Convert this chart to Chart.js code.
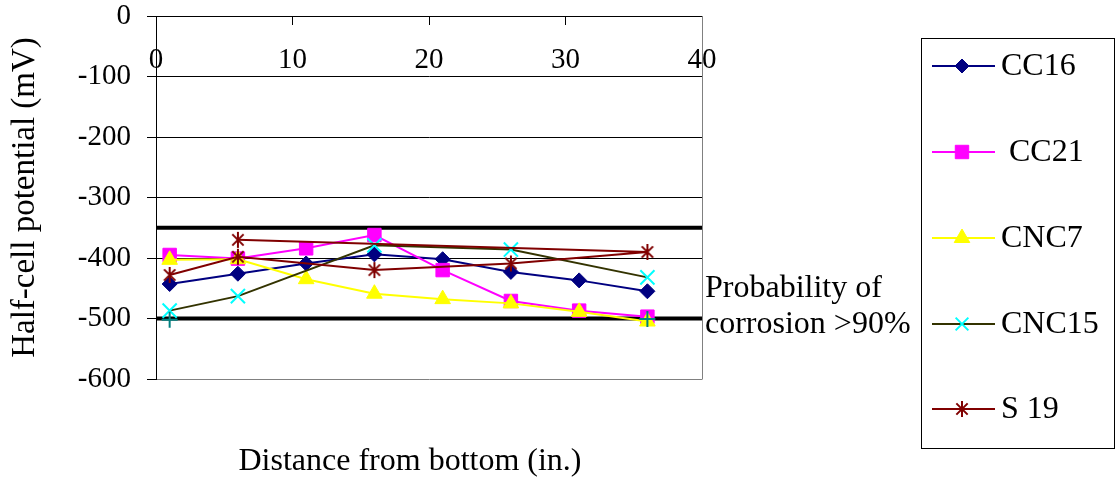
<!DOCTYPE html>
<html><head><meta charset="utf-8">
<script src="https://cdn.jsdelivr.net/npm/chart.js@4.4.1/dist/chart.umd.min.js"></script>
<style>html,body{margin:0;padding:0;background:#fff;}#wrap{width:1116px;height:477px;position:relative;}</style>
</head><body><div id="wrap"><canvas id="c" width="1116" height="477"></canvas></div>
<script>
// ---- data ----
const xTickValues = [0, 10, 20, 30, 40];
const yTickValues = [0, -100, -200, -300, -400, -500, -600];
const seriesNames = ['CC16', ' CC21', 'CNC7', 'CNC15', 'S 19'];

const cc16X = [1, 6, 11, 16, 21, 26, 31, 36];
const cc16Y = [-443, -426, -409, -394, -402, -423, -437, -455];

const cc21X = [1, 6, 11, 16, 21, 26, 31, 36];
const cc21Y = [-395, -401, -384, -362, -420, -471, -487, -497];

const cnc7X = [1, 6, 11, 16, 21, 26, 31, 36];
const cnc7Y = [-403, -402, -435, -459, -468, -475, -489, -505];

const cnc15X = [1, 6, 16, 26, 36];
const cnc15Y = [-487, -463, -379, -386, -432];

const s19X = [1, 6, 16, 26, 36, 6];
const s19Y = [-428, -398, -420, -409, -390, -370];

const extraX = [1, 36];
const extraY = [-502, -501];

const thresholdX = [0, 40];
const thresholdUpper = [-350, -350];
const thresholdLower = [-500, -500];

const xTitle = 'Distance from bottom (in.)';
const yTitle = 'Half-cell potential (mV)';
const noteLines = ['Probability of', 'corrosion >90%'];

// ---- helpers ----
const pts = (xs, ys) => xs.map((x, i) => ({x: x, y: ys[i]}));
const FONT = 'Liberation Serif, Times New Roman, serif';

function makeAsterisk(color, r, lw) {
  const s = Math.ceil(2 * r + 4);
  const cv = document.createElement('canvas');
  cv.width = s; cv.height = s;
  const g = cv.getContext('2d');
  const c = s / 2;
  g.strokeStyle = color; g.lineWidth = lw; g.lineCap = 'butt';
  g.beginPath();
  g.moveTo(c, c - r); g.lineTo(c, c + r);
  const d = r * Math.SQRT1_2;
  g.moveTo(c - d, c - d); g.lineTo(c + d, c + d);
  g.moveTo(c - d, c + d); g.lineTo(c + d, c - d);
  g.stroke();
  return cv;
}
const asteriskPlot = makeAsterisk('#800000', 8, 2);

const styles = [
  {line: '#000080', fill: '#000080', stroke: '#000080', ps: 'rectRot', r: 7.5, bw: 1},
  {line: '#FF00FF', fill: '#FF00FF', stroke: '#FF00FF', ps: 'rect', r: 9.5, bw: 1},
  {line: '#FFFF00', fill: '#FFFF00', stroke: '#FFFF00', ps: 'triangle', r: 9, bw: 1},
  {line: '#333300', fill: '#00FFFF', stroke: '#00FFFF', ps: 'crossRot', r: 10, bw: 2},
  {line: '#800000', fill: '#800000', stroke: '#800000', ps: asteriskPlot, r: 8, bw: 2}
];
const seriesData = [pts(cc16X, cc16Y), pts(cc21X, cc21Y), pts(cnc7X, cnc7Y), pts(cnc15X, cnc15Y), pts(s19X, s19Y)];

const datasets = seriesData.map((d, i) => ({
  label: seriesNames[i],
  data: d,
  showLine: true,
  borderColor: styles[i].line,
  borderWidth: 2,
  backgroundColor: styles[i].fill,
  pointStyle: styles[i].ps,
  pointRadius: styles[i].r,
  pointBackgroundColor: styles[i].fill,
  pointBorderColor: styles[i].stroke,
  pointBorderWidth: styles[i].bw,
  order: 5 - i,
  clip: false
}));
datasets.push({
  label: '', data: pts(extraX, extraY), showLine: false,
  pointStyle: 'cross', pointRadius: 8, pointBorderColor: '#008080', pointBackgroundColor: '#008080',
  pointBorderWidth: 2, order: -1, clip: false
});
[thresholdUpper, thresholdLower].forEach(t => datasets.push({
  label: '', data: pts(thresholdX, t), showLine: true, borderColor: '#000', borderWidth: 4,
  pointRadius: 0, order: 10
}));

const legendMarkerRadius = [7, 9.5, 9, 9, 8];

function drawMarker(ctx, st, r, x, y) {
  ctx.save();
  ctx.fillStyle = st.fill; ctx.strokeStyle = st.stroke; ctx.lineWidth = st.bw;
  if (Chart.helpers && Chart.helpers.drawPoint) {
    Chart.helpers.drawPoint(ctx, {pointStyle: st.ps, radius: r, rotation: 0, borderWidth: st.bw}, x, y);
  }
  ctx.restore();
}

const decor = {
  id: 'decor',
  beforeDatasetsDraw(chart) {
    const {ctx, chartArea: a} = chart;
    ctx.save();
    ctx.strokeStyle = '#808080'; ctx.lineWidth = 1;
    ctx.beginPath(); ctx.moveTo(Math.round(a.right) + 0.5, a.top); ctx.lineTo(Math.round(a.right) + 0.5, a.bottom + 0.5); ctx.stroke();
    ctx.restore();
  },
  afterDraw(chart) {
    const {ctx} = chart;
    ctx.save();
    ctx.fillStyle = '#000';
    ctx.font = '32px ' + FONT;
    ctx.textBaseline = 'alphabetic';
    ctx.textAlign = 'center';
    ctx.fillText(xTitle, 410, 470);
    ctx.textAlign = 'left';
    ctx.fillText(noteLines[0], 705, 297);
    ctx.fillText(noteLines[1], 705, 333);
    // legend box
    ctx.strokeStyle = '#000'; ctx.lineWidth = 1;
    ctx.strokeRect(921.5, 38.5, 193, 410);
    const ly = [66, 152, 238, 324, 409];
    seriesNames.forEach((name, i) => {
      const st = styles[i];
      ctx.strokeStyle = st.line; ctx.lineWidth = 2;
      ctx.beginPath(); ctx.moveTo(932, ly[i]); ctx.lineTo(995, ly[i]); ctx.stroke();
      drawMarker(ctx, st, legendMarkerRadius[i], 962, ly[i]);
      ctx.fillStyle = '#000';
      ctx.font = '32px ' + FONT;
      ctx.textAlign = 'left'; ctx.textBaseline = 'alphabetic';
      ctx.fillText(name, 1001, ly[i] + 9);
    });
    ctx.restore();
  }
};

new Chart(document.getElementById('c'), {
  type: 'scatter',
  data: {datasets: datasets},
  plugins: [decor],
  options: {
    responsive: false,
    animation: false,
    layout: {padding: {left: 0, top: 0, right: 414, bottom: 98}},
    plugins: {legend: {display: false}, tooltip: {enabled: false}},
    scales: {
      x: {
        type: 'linear', position: 'top', min: 0, max: 40,
        afterBuildTicks: s => { s.ticks = xTickValues.map(v => ({value: v})); },
        afterFit: s => { s.height = 16; s.paddingLeft = 0; s.paddingRight = 0; s.paddingTop = 0; s.paddingBottom = 0; },
        grid: {drawOnChartArea: false, tickLength: -9, color: '#000', lineWidth: 1},
        border: {color: '#000', width: 1},
        ticks: {color: '#000', mirror: true, padding: 27, maxRotation: 0, autoSkip: false,
          font: {family: FONT, size: 29, lineHeight: 1.2}}
      },
      y: {
        type: 'linear', position: 'left', min: -600, max: 0,
        afterBuildTicks: s => { s.ticks = yTickValues.map(v => ({value: v})); },
        afterFit: s => { s.width = 156; s.paddingTop = 0; s.paddingBottom = 0; s.paddingLeft = 0; s.paddingRight = 0; },
        grid: {color: c => (c.tick && c.tick.value === -600) ? '#808080' : '#000', tickColor: '#000', tickLength: 9, lineWidth: 1},
        border: {color: '#000', width: 1},
        ticks: {color: '#000', padding: 16, font: {family: FONT, size: 29, lineHeight: 1}},
        title: {display: true, text: yTitle, color: '#000', padding: {top: 6, bottom: 0},
          font: {family: FONT, size: 33, lineHeight: 1.2}}
      }
    }
  }
});
</script></body></html>
